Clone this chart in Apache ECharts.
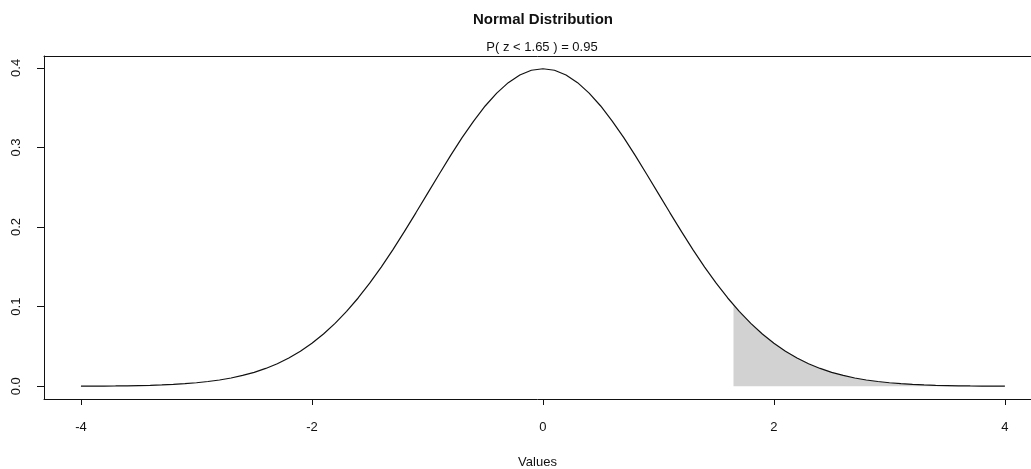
<!DOCTYPE html>
<html>
<head>
<meta charset="utf-8">
<script src="https://cdn.jsdelivr.net/npm/echarts@6/dist/echarts.min.js"></script>
<style>
  html, body { margin: 0; padding: 0; background: #fff; }
  #chart { width: 1031px; height: 469px; }
</style>
</head>
<body>
<div id="chart"></div>
<script>
// curve, x step 0.1 from -4 to 4
var curveX = [-4.0,-3.9,-3.8,-3.7,-3.6,-3.5,-3.4,-3.3,-3.2,-3.1,-3.0,-2.9,-2.8,-2.7,-2.6,-2.5,-2.4,-2.3,-2.2,-2.1,
  -2.0,-1.9,-1.8,-1.7,-1.6,-1.5,-1.4,-1.3,-1.2,-1.1,-1.0,-0.9,-0.8,-0.7,-0.6,-0.5,-0.4,-0.3,-0.2,-0.1,
  0.0,0.1,0.2,0.3,0.4,0.5,0.6,0.7,0.8,0.9,1.0,1.1,1.2,1.3,1.4,1.5,1.6,1.7,1.8,1.9,
  2.0,2.1,2.2,2.3,2.4,2.5,2.6,2.7,2.8,2.9,3.0,3.1,3.2,3.3,3.4,3.5,3.6,3.7,3.8,3.9,4.0];
var curveY = [0.0001,0.0002,0.0003,0.0004,0.0006,0.0009,0.0012,0.0017,0.0024,0.0033,0.0044,0.0060,0.0079,0.0104,0.0136,0.0175,0.0224,0.0283,0.0355,0.0440,
  0.0540,0.0656,0.0790,0.0940,0.1109,0.1295,0.1497,0.1714,0.1942,0.2179,0.2420,0.2661,0.2897,0.3123,0.3332,0.3521,0.3683,0.3814,0.3910,0.3970,
  0.3989,0.3970,0.3910,0.3814,0.3683,0.3521,0.3332,0.3123,0.2897,0.2661,0.2420,0.2179,0.1942,0.1714,0.1497,0.1295,0.1109,0.0940,0.0790,0.0656,
  0.0540,0.0440,0.0355,0.0283,0.0224,0.0175,0.0136,0.0104,0.0079,0.0060,0.0044,0.0033,0.0024,0.0017,0.0012,0.0009,0.0006,0.0004,0.0003,0.0002,0.0001];

// shaded upper tail, from z = 1.65 to 4
var tailX = [1.65,1.7,1.8,1.9,2.0,2.1,2.2,2.3,2.4,2.5,2.6,2.7,2.8,2.9,3.0,3.1,3.2,3.3,3.4,3.5,3.6,3.7,3.8,3.9,4.0];
var tailY = [0.1023,0.0940,0.0790,0.0656,0.0540,0.0440,0.0355,0.0283,0.0224,0.0175,0.0136,0.0104,0.0079,0.0060,0.0044,0.0033,0.0024,0.0017,0.0012,0.0009,0.0006,0.0004,0.0003,0.0002,0.0001];

var xTicks = [-4, -2, 0, 2, 4];
var yTicks = [0, 0.1, 0.2, 0.3, 0.4];

var titleText = 'Normal Distribution';
var subText = 'P( z < 1.65 ) = 0.95';
var xName = 'Values';

var font = '"Liberation Sans", Arial, Helvetica, sans-serif';
var ink = '#111';

function pairs(xs, ys) {
  return xs.map(function (x, i) { return [x, ys[i]]; });
}

var myChart = echarts.init(document.getElementById('chart'));

var option = {
  animation: false,
  backgroundColor: '#fff',
  textStyle: { fontFamily: font },
  // box runs off the right edge of the picture, so no right border
  grid: { left: 44, top: 56, right: 0, height: 343, outerBoundsMode: 'none', containLabel: false },
  graphic: [
    { type: 'text', x: 543, y: 20, style: { text: titleText, font: 'bold 15px ' + font, fill: ink, textAlign: 'center', textVerticalAlign: 'middle' } },
    { type: 'text', x: 542, y: 47, style: { text: subText, font: '13px ' + font, fill: ink, textAlign: 'center', textVerticalAlign: 'middle' } }
  ],
  xAxis: [
    {
      type: 'value', min: -4.32, max: 4.226, position: 'bottom',
      name: xName, nameLocation: 'middle', nameGap: 57,
      nameTextStyle: { fontSize: 13, color: ink, fontFamily: font },
      axisLine: { show: true, onZero: false, lineStyle: { color: ink, width: 1 } },
      splitLine: { show: false },
      axisTick: { show: true, length: 6, customValues: xTicks, lineStyle: { color: ink } },
      axisLabel: { customValues: xTicks, margin: 22, fontSize: 13, color: ink, fontFamily: font }
    },
    {
      type: 'value', min: -4.32, max: 4.226, position: 'top',
      axisLine: { show: true, onZero: false, lineStyle: { color: ink, width: 1 } },
      splitLine: { show: false },
      axisTick: { show: false },
      axisLabel: { show: false }
    }
  ],
  yAxis: {
    type: 'value', min: -0.016, max: 0.4149,
    axisLine: { show: true, onZero: false, lineStyle: { color: ink, width: 1 } },
    splitLine: { show: false },
    axisTick: { show: true, length: 7, customValues: yTicks, lineStyle: { color: ink } },
    axisLabel: {
      customValues: yTicks, rotate: 90, margin: 21, fontSize: 13, color: ink, fontFamily: font,
      formatter: function (v) { return v.toFixed(1); }
    }
  },
  series: [
    {
      type: 'line',
      data: pairs(tailX, tailY),
      symbol: 'none',
      lineStyle: { width: 0 },
      areaStyle: { color: '#d2d2d2', opacity: 1 },
      z: 1
    },
    {
      type: 'line',
      data: pairs(curveX, curveY),
      symbol: 'none',
      lineStyle: { color: ink, width: 1.2 },
      z: 2
    }
  ]
};

myChart.setOption(option);
</script>
</body>
</html>
